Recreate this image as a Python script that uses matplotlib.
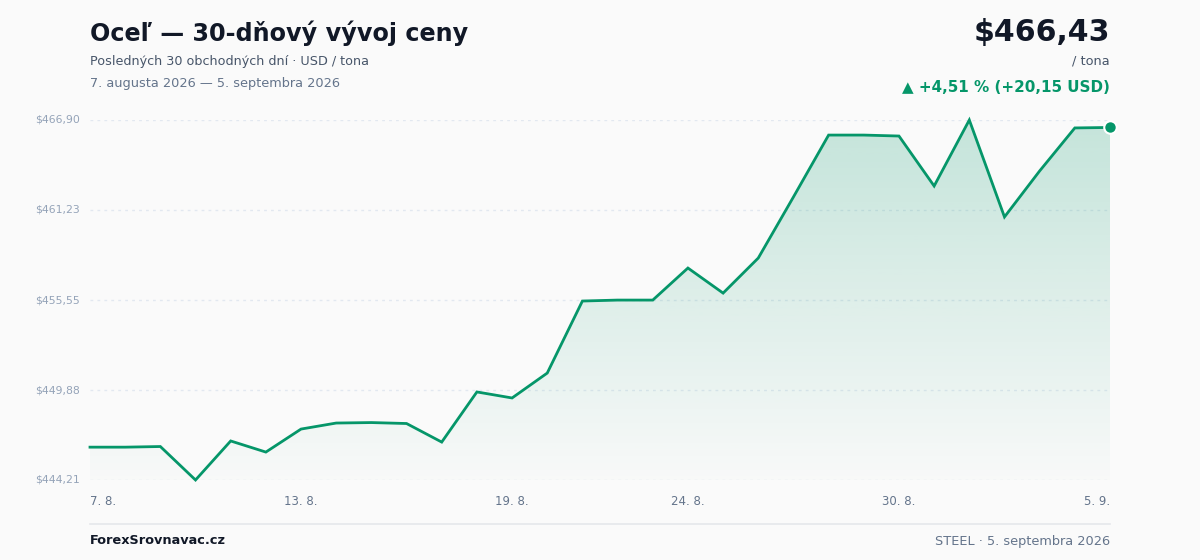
import matplotlib
matplotlib.use("Agg")
import matplotlib.pyplot as plt
import numpy as np
from matplotlib.patches import Polygon

plt.rcParams['font.family'] = ['DejaVu Sans']

# ---- data ----
dates = ["7. 8.", "8. 8.", "9. 8.", "10. 8.", "11. 8.", "12. 8.", "13. 8.", "14. 8.", "15. 8.", "16. 8.",
         "17. 8.", "18. 8.", "19. 8.", "20. 8.", "21. 8.", "22. 8.", "23. 8.", "24. 8.", "25. 8.", "26. 8.",
         "27. 8.", "28. 8.", "29. 8.", "30. 8.", "31. 8.", "1. 9.", "2. 9.", "3. 9.", "4. 9.", "5. 9."]
prices = [446.28, 446.28, 446.32, 444.21, 446.67, 445.97, 447.42, 447.80, 447.83, 447.77,
          446.60, 449.76, 449.38, 450.95, 455.49, 455.55, 455.55, 457.57, 455.99, 458.20,
          462.05, 465.95, 465.95, 465.89, 462.74, 466.90, 460.79, 463.69, 466.40, 466.43]
xtick_idx = [0, 6, 12, 17, 23, 29]
xtick_labels = ["7. 8.", "13. 8.", "19. 8.", "24. 8.", "30. 8.", "5. 9."]
yticks = [444.21, 449.88, 455.55, 461.23, 466.90]
ytick_labels = ["$444,21", "$449,88", "$455,55", "$461,23", "$466,90"]

GREEN = "#059669"
BG = "#fafafa"

fig = plt.figure(figsize=(12, 5.6), dpi=100, facecolor=BG)
ax = fig.add_axes([90/1200, 80/560, 1020/1200, 360/560])
ax.set_facecolor(BG)
x = np.arange(len(prices))
ymin, ymax = min(yticks), max(yticks)
ax.set_xlim(0, len(prices) - 1)
ax.set_ylim(ymin, ymax)

# grid
for yt in yticks:
    ax.axhline(yt, color="#e2e8f0", lw=1, ls=(0, (2, 3)), zorder=1)

# gradient fill
grad = np.zeros((256, 1, 4))
rgb = matplotlib.colors.to_rgb(GREEN)
grad[:, 0, 0:3] = rgb
grad[:, 0, 3] = np.linspace(0.01, 0.22, 256)
im = ax.imshow(grad, extent=[0, len(prices) - 1, ymin, ymax], origin="lower",
               aspect="auto", zorder=2)
verts = [(0, ymin)] + list(zip(x, prices)) + [(len(prices) - 1, ymin)]
poly = Polygon(verts, closed=True, facecolor="none", edgecolor="none")
ax.add_patch(poly)
im.set_clip_path(poly)

ax.plot(x, prices, color=GREEN, lw=2, zorder=3, solid_joinstyle="miter", clip_on=False)
ax.plot([x[-1]], [prices[-1]], "o", ms=9, color=GREEN, mec="white", mew=1.5,
        zorder=4, clip_on=False)

for s in ax.spines.values():
    s.set_visible(False)
ax.set_xticks([])
ax.set_yticks([])

# y labels
for yt, lab in zip(yticks, ytick_labels):
    ax.text(-0.01, yt, lab, transform=ax.get_yaxis_transform(), ha="right", va="center",
            fontsize=7.8, color="#94a3b8")
# x labels
for i, (xi, lab) in enumerate(zip(xtick_idx, xtick_labels)):
    ha = "left" if i == 0 else ("right" if i == len(xtick_idx) - 1 else "center")
    ax.text(xi, -0.06, lab, transform=ax.get_xaxis_transform(), ha=ha, va="center",
            fontsize=8.5, color="#64748b")

# header
fig.text(90/1200, 1 - 33/560, "Oceľ — 30-dňový vývoj ceny", fontsize=17.2, fontweight="bold",
         color="#111827", va="center", ha="left")
fig.text(90/1200, 1 - 61/560, "Posledných 30 obchodných dní · USD / tona", fontsize=9.2,
         color="#475569", va="center", ha="left")
fig.text(90/1200, 1 - 83/560, "7. augusta 2026 — 5. septembra 2026", fontsize=9.3,
         color="#64748b", va="center", ha="left")
fig.text(1110/1200, 1 - 33/560, "$466,43", fontsize=21.6, fontweight="bold",
         color="#111827", va="center", ha="right")
fig.text(1110/1200, 1 - 61/560, "/ tona", fontsize=9.3, color="#475569", va="center", ha="right")
fig.text(1110/1200, 1 - 87/560, "▲ +4,51 % (+20,15 USD)", fontsize=10.9, fontweight="bold",
         color=GREEN, va="center", ha="right")

# footer
fig.add_artist(plt.Line2D([90/1200, 1110/1200], [1 - 524/560, 1 - 524/560],
                          color="#e5e7eb", lw=1.2, transform=fig.transFigure))
fig.text(90/1200, 1 - 541/560, "ForexSrovnavac.cz", fontsize=9.3, fontweight="bold",
         color="#111827", va="center", ha="left")
fig.text(1110/1200, 1 - 541/560, "STEEL · 5. septembra 2026", fontsize=9.3,
         color="#64748b", va="center", ha="right")

fig.savefig("out.png", dpi=100, facecolor=BG)
